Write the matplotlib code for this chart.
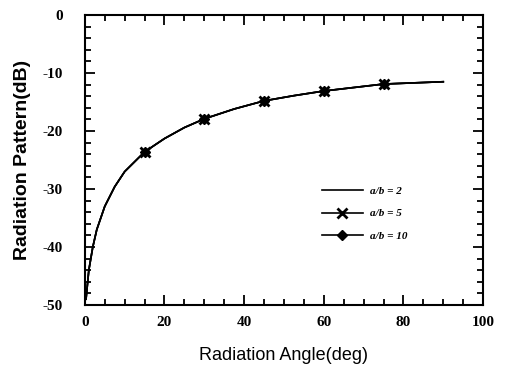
import numpy as np
import matplotlib
matplotlib.use("Agg")
import matplotlib.pyplot as plt
from matplotlib.ticker import MultipleLocator

# ── data ─────────────────────────────────────────────────────────────
angle = [0.3, 1, 2, 3, 5, 7.5, 10, 15, 20, 25, 30, 37.5, 45,
         52.5, 60, 67.5, 75, 82.5, 90]
pattern_ab2 = [-49.0, -44.0, -40.0, -37.0, -33.0, -29.6, -27.0, -23.6, -21.3,
               -19.4, -17.9, -16.2, -14.8, -13.9, -13.1, -12.5, -11.9, -11.7, -11.5]
pattern_ab5 = list(pattern_ab2)
pattern_ab10 = list(pattern_ab2)
marker_angles = [15, 30, 45, 60, 75]
labels = ["a/b = 2", "a/b = 5", "a/b = 10"]

x_ticks = [0, 20, 40, 60, 80, 100]
y_ticks = [0, -10, -20, -30, -40, -50]

mark_idx = [angle.index(a) for a in marker_angles]

fig = plt.figure(figsize=(5.08, 3.67), dpi=100)
ax = fig.add_axes([0.167, 0.169, 0.784, 0.790])

ax.plot(angle, pattern_ab2, color="black", lw=1.2, label=labels[0])
ax.plot(angle, pattern_ab5, color="black", lw=1.2, marker="x", ms=7, mew=2,
        markevery=mark_idx, label=labels[1])
ax.plot(angle, pattern_ab10, color="black", lw=1.2, marker="D", ms=5,
        markevery=mark_idx, label=labels[2])

ax.set_xlim(0, 100)
ax.set_ylim(-50, 0)
ax.set_xticks(x_ticks)
ax.set_yticks(y_ticks)
ax.xaxis.set_minor_locator(MultipleLocator(5))
ax.yaxis.set_minor_locator(MultipleLocator(2))
ax.tick_params(which="both", direction="in", top=True, right=True, width=1.3)
ax.tick_params(which="major", length=7)
ax.tick_params(which="minor", length=4)
ax.tick_params(axis="x", which="major", pad=8)
ax.tick_params(axis="y", which="major", pad=16)
for s in ax.spines.values():
    s.set_linewidth(1.5)

tick_font = dict(family="Liberation Serif", weight="bold", size=11)
ax.set_xticklabels([str(v) for v in x_ticks], **tick_font)
ax.set_yticklabels([str(v) for v in y_ticks], **tick_font)

ax.set_xlabel("Radiation Angle(deg)", family="Liberation Sans", size=13, labelpad=13)
ax.set_ylabel("Radiation Pattern(dB)", family="Liberation Sans", weight="bold",
              size=14, labelpad=8)

leg = ax.legend(loc="upper left", bbox_to_anchor=(0.595, 0.41), frameon=False,
                borderaxespad=0, borderpad=0,
                handlelength=3.7, handletextpad=0.6, labelspacing=1.15,
                prop=dict(family="Liberation Serif", style="italic", weight="bold", size=8))

fig.savefig("out.png", dpi=100)
